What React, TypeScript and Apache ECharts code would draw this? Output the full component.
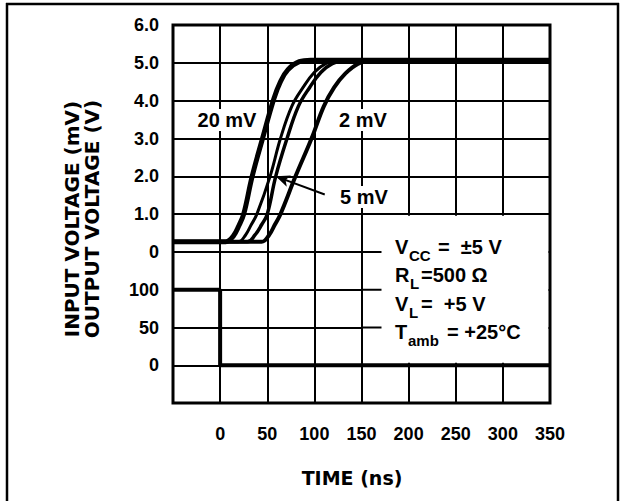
import React, { useEffect, useRef } from "react";
import * as echarts from "echarts";

// Output voltage (V) vs time (ns) for several input overdrives
const out20mV: [number, number][] = [
  [-50, 0.27], [6, 0.27], [14, 0.42], [20, 0.7], [25, 1.0], [34, 2.0], [45, 3.0],
  [57, 4.05], [64, 4.5], [72, 4.82], [84, 5.03], [96, 5.07], [350, 5.07],
];
const outUnlabeled: [number, number][] = [
  [-50, 0.27], [19, 0.27], [27, 0.45], [33, 0.72], [39, 1.0], [53, 2.0], [64, 3.0],
  [76, 3.85], [88, 4.35], [100, 4.75], [112, 4.98], [126, 5.07], [350, 5.07],
];
const out5mV: [number, number][] = [
  [-50, 0.27], [29, 0.27], [37, 0.45], [44, 0.72], [50, 1.0], [59, 2.0], [71, 3.0],
  [83, 3.85], [95, 4.35], [107, 4.75], [119, 4.98], [133, 5.07], [350, 5.07],
];
const out2mV: [number, number][] = [
  [-50, 0.27], [44, 0.27], [52, 0.45], [58, 0.72], [64, 1.0], [80, 2.0], [97, 3.0],
  [110, 3.85], [121, 4.35], [133, 4.72], [146, 4.97], [160, 5.07], [350, 5.07],
];
// Input step (mV) vs time (ns)
const inputPulse: [number, number][] = [[-50, 100], [0, 100], [0, 0], [350, 0]];

// Arrow pointing at the 5 mV trace (time ns, output V)
const arrow5mV: [number, number][] = [[59, 2.0], [111, 1.52]];

const timeRange = [-50, 350];
const outputRange = [0, 6];
const inputRange = [-50, 150];
const inputTickLabels = [0, 50, 100];

const curveLabels = ["20 mV", "2 mV", "5 mV"];
const conditionMain = ["V", "R", "V", "T"];
const conditionSub = ["CC", "L", "L", "amb"];
const conditionRest = ["=  ±5 V", "=500 Ω", "=  +5 V", "= +25°C"];
const xTitle = "TIME (ns)";
const yTitles = ["INPUT VOLTAGE (mV)", "OUTPUT VOLTAGE (V)"];

export default function App() {
  const ref = useRef<HTMLDivElement>(null);
  useEffect(() => {
    const chart = echarts.init(ref.current!, null, { renderer: "svg" });
    const tickFont = {
      fontFamily: "Liberation Sans, Arial, sans-serif",
      fontWeight: "bold" as const,
      fontSize: 18,
      color: "#000",
    };
    const gridLine = { show: true, lineStyle: { color: "#000", width: 2 } };
    const black = (w: number) => ({ color: "#000", width: w });
    const L = 173, W = 377, T = 25, H0 = 227, H1 = 151;
    const curve = (name: string, data: [number, number][], w: number, extra: any = {}) => ({
      name, type: "line", xAxisIndex: 0, yAxisIndex: 0, data,
      showSymbol: false, smooth: 0.4, lineStyle: black(w), z: 3, ...extra,
    });

    chart.setOption({
      animation: false,
      backgroundColor: "#fff",
      grid: [
        { left: L, top: T, width: W, height: H0, outerBoundsMode: "none", containLabel: false },
        { left: L, top: T + H0, width: W, height: H1, outerBoundsMode: "none", containLabel: false },
      ],
      xAxis: [
        {
          gridIndex: 0, type: "value", min: timeRange[0], max: timeRange[1], interval: 50,
          axisLabel: { show: false }, axisTick: { show: false }, axisLine: { show: false },
          splitLine: gridLine,
        },
        {
          gridIndex: 1, type: "value", min: timeRange[0], max: timeRange[1], interval: 50,
          axisLabel: { ...tickFont, margin: 22, formatter: (v: number) => (v < 0 ? "" : String(v)) },
          axisTick: { show: false }, axisLine: { show: false }, splitLine: gridLine,
        },
      ],
      yAxis: [
        {
          gridIndex: 0, type: "value", min: outputRange[0], max: outputRange[1], interval: 1,
          axisLabel: { ...tickFont, margin: 14, formatter: (v: number) => (v === 0 ? "0" : v.toFixed(1)) },
          axisTick: { show: false }, axisLine: { show: false }, splitLine: gridLine,
        },
        {
          gridIndex: 1, type: "value", min: inputRange[0], max: inputRange[1], interval: 50,
          axisLabel: {
            ...tickFont, margin: 14,
            formatter: (v: number) => (inputTickLabels.includes(v) ? String(v) : ""),
          },
          axisTick: { show: false }, axisLine: { show: false }, splitLine: gridLine,
        },
      ],
      series: [
        curve("20 mV", out20mV, 5),
        curve("unlabeled", outUnlabeled, 3),
        curve("5 mV", out5mV, 3.5, {
          markLine: {
            silent: true, symbol: ["arrow", "none"], symbolSize: [9, 14],
            label: { show: false }, lineStyle: { color: "#000", width: 2, type: "solid" },
            data: [[{ coord: arrow5mV[0] }, { coord: arrow5mV[1] }]],
          },
        }),
        curve("2 mV", out2mV, 4),
        {
          name: "input", type: "line", xAxisIndex: 1, yAxisIndex: 1, data: inputPulse,
          showSymbol: false, lineStyle: black(4), z: 3,
        },
      ],
    });

    const p0 = (x: number, y: number) => chart.convertToPixel({ gridIndex: 0 }, [x, y]) as number[];
    const p1 = (x: number, y: number) => chart.convertToPixel({ gridIndex: 1 }, [x, y]) as number[];

    const tl = p0(timeRange[0], outputRange[1]);
    const br = p1(timeRange[1], inputRange[0]);
    const boxTL = p0(150, 1);
    const boxBR = p1(timeRange[1], 0);
    const stubYs = [p0(150, 0)[1], p1(150, 100)[1], p1(150, 50)[1]];

    const labelFont = {
      fontFamily: "Liberation Sans, Arial, sans-serif", fontWeight: "bold", fontSize: 20, fill: "#000",
    };
    const condFont = { fontFamily: "Liberation Sans, Arial, sans-serif", fontWeight: "bold", fill: "#000" };
    const titleFont = { fontFamily: "DejaVu Sans, sans-serif", fontWeight: "bold", fill: "#000" };

    const curveLabelPos = [[227, 120], [363, 120], [364, 197]];
    const condY = [247, 275, 304, 332];
    const condSubX = [409, 410, 409, 408];
    const condRestX = [438, 421, 421, 447];

    const graphics: any[] = [
      // white conditions box
      {
        type: "rect", z: 50,
        shape: { x: boxTL[0] + 1.5, y: boxTL[1] + 1.5, width: boxBR[0] - boxTL[0] - 3, height: boxBR[1] - boxTL[1] - 4 },
        style: { fill: "#fff" },
      },
      ...stubYs.map((y) => ({
        type: "line", z: 51,
        shape: { x1: boxTL[0], y1: y, x2: boxTL[0] + 20, y2: y },
        style: { stroke: "#000", lineWidth: 2 },
      })),
      // plot frame
      {
        type: "rect", z: 60,
        shape: { x: tl[0], y: tl[1], width: br[0] - tl[0], height: br[1] - tl[1] },
        style: { fill: "none", stroke: "#000", lineWidth: 3 },
      },
      // outer page frame
      { type: "line", z: 60, shape: { x1: 7, y1: 3, x2: 7, y2: 501 }, style: { stroke: "#000", lineWidth: 2.5 } },
      { type: "line", z: 60, shape: { x1: 6, y1: 4, x2: 619, y2: 4 }, style: { stroke: "#000", lineWidth: 2.5 } },
      { type: "line", z: 60, shape: { x1: 618, y1: 3, x2: 618, y2: 501 }, style: { stroke: "#000", lineWidth: 2.5 } },
      // curve labels
      ...curveLabels.map((t, i) => ({
        type: "text", z: 70, x: curveLabelPos[i][0], y: curveLabelPos[i][1],
        style: {
          ...labelFont, text: t, align: "center", verticalAlign: "middle",
          backgroundColor: "#fff", padding: [1, 3],
        },
      })),
      // test conditions
      ...conditionMain.map((t, i) => ({
        type: "text", z: 70, x: 395, y: condY[i],
        style: { ...condFont, fontSize: 20, text: t, align: "left", verticalAlign: "middle" },
      })),
      ...conditionSub.map((t, i) => ({
        type: "text", z: 70, x: condSubX[i], y: condY[i] + 8,
        style: { ...condFont, fontSize: 15, text: t, align: "left", verticalAlign: "middle" },
      })),
      ...conditionRest.map((t, i) => ({
        type: "text", z: 70, x: condRestX[i], y: condY[i],
        style: { ...condFont, fontSize: 20, text: t, align: "left", verticalAlign: "middle" },
      })),
      // axis titles
      {
        type: "text", z: 70, x: 352, y: 478,
        style: { ...titleFont, fontSize: 19, text: xTitle, align: "center", verticalAlign: "middle" },
      },
      ...yTitles.map((t, i) => ({
        type: "text", z: 70, x: 72 + i * 20, y: 219, rotation: Math.PI / 2,
        style: { ...titleFont, fontSize: 20, text: t, align: "center", verticalAlign: "middle" },
      })),
    ];

    chart.setOption({ graphic: graphics });
    return () => chart.dispose();
  }, []);

  return (
    <div
      ref={ref}
      style={{ position: "fixed", left: 0, top: 0, width: 622, height: 501, background: "#fff" }}
    />
  );
}
